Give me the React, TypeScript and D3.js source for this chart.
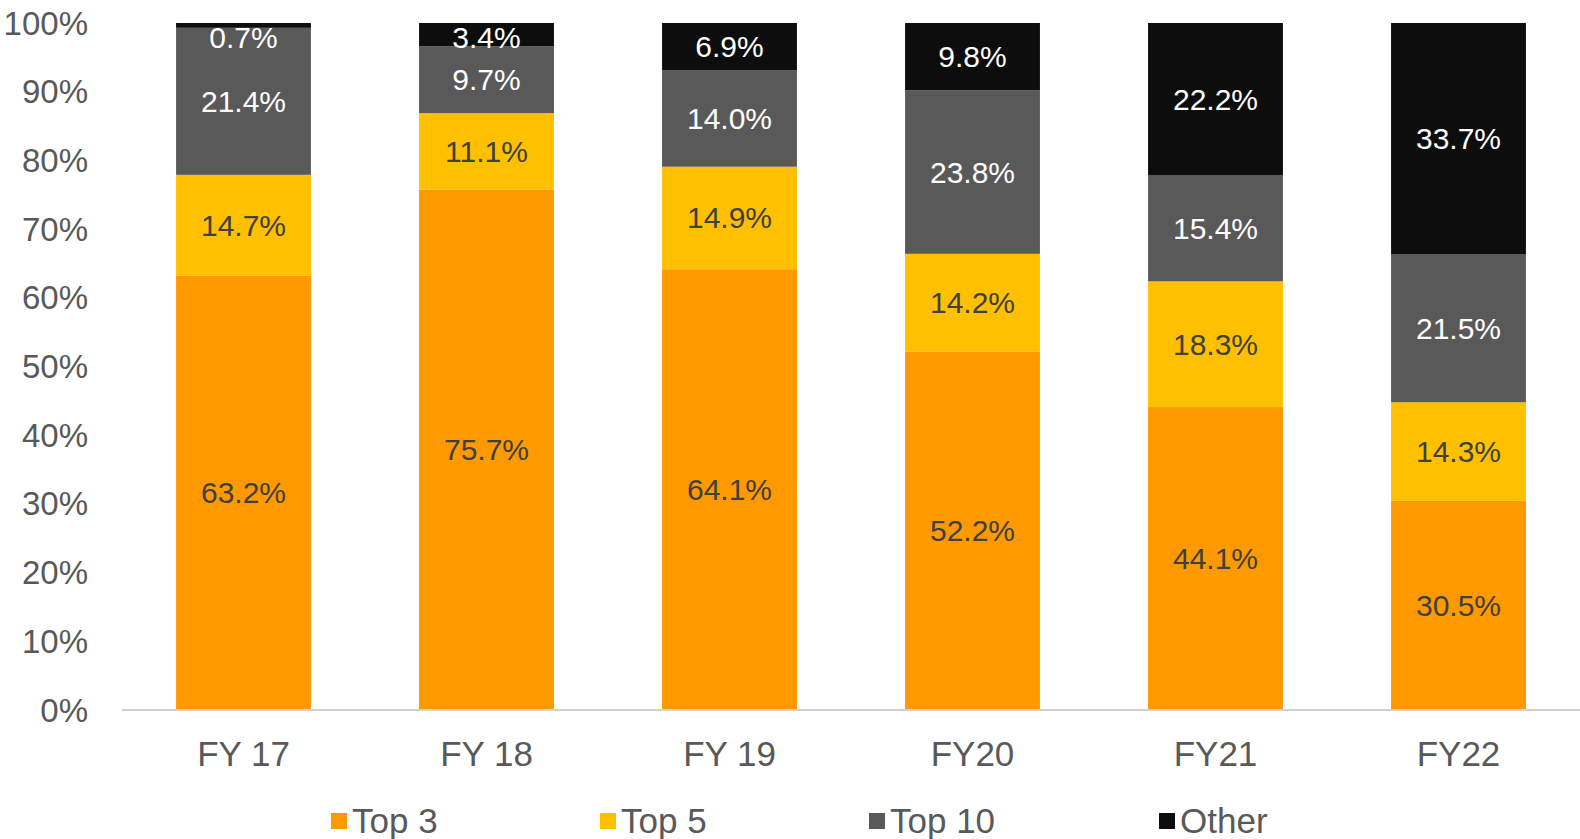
import React from "react";
import * as d3 from "d3";

const categories = ["FY 17", "FY 18", "FY 19", "FY20", "FY21", "FY22"];
const seriesNames = ["Top 3", "Top 5", "Top 10", "Other"];
const top3 = [63.2, 75.7, 64.1, 52.2, 44.1, 30.5];
const top5 = [14.7, 11.1, 14.9, 14.2, 18.3, 14.3];
const top10 = [21.4, 9.7, 14.0, 23.8, 15.4, 21.5];
const other = [0.7, 3.4, 6.9, 9.8, 22.2, 33.7];
const yTicks = [0, 10, 20, 30, 40, 50, 60, 70, 80, 90, 100];

const colors = ["#FF9900", "#FFC000", "#595959", "#0D0D0D"];
const labelColors = ["#404040", "#404040", "#FFFFFF", "#FFFFFF"];
const legendX = [331, 600, 869, 1159];

const W = 1580;
const H = 839;
const FONT = "'Liberation Sans', Arial, sans-serif";

export default function App() {
  const series = [top3, top5, top10, other];
  const rows = categories.map((c, i) => {
    const r: any = { cat: c };
    seriesNames.forEach((s, k) => (r[s] = series[k][i]));
    return r;
  });
  const stacked = d3.stack().keys(seriesNames).offset(d3.stackOffsetExpand)(rows);

  const x = d3.scaleBand().domain(categories).range([122, 1580]).paddingInner(0.445).paddingOuter(0.2225);
  const y = d3.scaleLinear().domain([0, 1]).range([710, 23]);

  return (
    <svg width={W} height={H} style={{ position: "absolute", left: 0, top: 0, background: "#fff" }} fontFamily={FONT}>
      {yTicks.map((t) => (
        <text key={t} x={88} y={y(t / 100)} dy="0.35em" textAnchor="end" fontSize={33} fill="#595959">
          {t}%
        </text>
      ))}
      {stacked.map((layer, k) =>
        layer.map((d, i) => {
          const x0 = x(categories[i])!;
          return (
            <rect
              key={`${k}-${i}`}
              x={x0}
              y={y(d[1])}
              width={x.bandwidth()}
              height={y(d[0]) - y(d[1])}
              fill={colors[k]}
            />
          );
        })
      )}
      <line x1={122} x2={1580} y1={710} y2={710} stroke="#D0D0D0" strokeWidth={2} />
      {stacked.map((layer, k) =>
        layer.map((d, i) => {
          const cx = x(categories[i])! + x.bandwidth() / 2;
          let cy = (y(d[0]) + y(d[1])) / 2;
          cy = Math.max(cy, y(1) + 14);
          return (
            <text
              key={`l${k}-${i}`}
              x={cx}
              y={cy}
              dy="0.35em"
              textAnchor="middle"
              fontSize={30}
              fill={labelColors[k]}
            >
              {series[k][i].toFixed(1)}%
            </text>
          );
        })
      )}
      {categories.map((c) => (
        <text
          key={c}
          x={x(c)! + x.bandwidth() / 2}
          y={754}
          dy="0.35em"
          textAnchor="middle"
          fontSize={35}
          fill="#595959"
        >
          {c}
        </text>
      ))}
      {seriesNames.map((s, k) => (
        <g key={s} transform={`translate(${legendX[k]},821)`}>
          <rect x={0} y={-8} width={16} height={16} fill={colors[k]} />
          <text x={21} y={0} dy="0.35em" fontSize={35} fill="#595959">
            {s}
          </text>
        </g>
      ))}
    </svg>
  );
}
